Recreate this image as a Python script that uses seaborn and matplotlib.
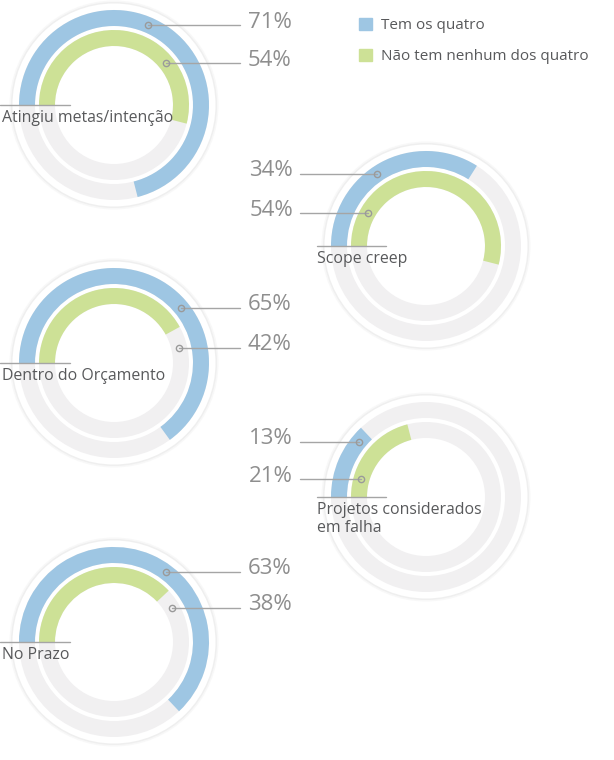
import matplotlib.pyplot as plt
from matplotlib.patches import Patch
import numpy as np
import seaborn as sns

categories = ["Atingiu metas/intenção", "Scope creep", "Dentro do Orçamento",
              "Projetos considerados\nem falha", "No Prazo"]
tem_os_quatro = [71, 34, 65, 13, 63]
nenhum_dos_quatro = [54, 54, 42, 21, 38]
series_names = ["Tem os quatro", "Não tem nenhum dos quatro"]

# layout, in pixels (y grows downwards)
centers = [(114, 105), (426, 246), (114, 363), (426, 497), (114, 642)]
label_side = ["right", "left", "right", "left", "right"]
value_dy = [(-80, -42), (-72, -33), (-55, -15), (-55, -18), (-70, -34)]
rings = [(95, 16), (75, 16)]  # outer radius, width

BLUE = "#9ec6e3"
GREEN = "#cde196"
TRACK = "#f1f0f1"
LINE = "#a5a5a5"
DARK = "#58595b"
PCT = "#8e8e8e"

sns.set_theme(style="white")
plt.rcParams["font.family"] = ["Open Sans", "DejaVu Sans"]

fig = plt.figure(figsize=(6.14, 7.6), dpi=100)
ax = fig.add_axes([0, 0, 1, 1])

for i, cat in enumerate(categories):
    cx, cy = centers[i]
    # white disc with a soft shadow
    for r, c in [(104.5, "#f8f8f8"), (103, "#efefef"), (101.5, "white")]:
        ax.add_patch(plt.Circle((cx, cy), r, color=c, lw=0, zorder=1))

    vals = [tem_os_quatro[i], nenhum_dos_quatro[i]]
    for (r, w), v, col, dy in zip(rings, vals, [BLUE, GREEN], value_dy[i]):
        ax.pie([1], radius=r, center=(cx, cy), colors=[TRACK], frame=True,
               wedgeprops=dict(width=w, linewidth=0))
        ax.pie([v / 100], normalize=False, radius=r, center=(cx, cy), colors=[col],
               startangle=180, counterclock=True, frame=True,
               wedgeprops=dict(width=w, linewidth=0))

        # leader line + value
        rm = r - w / 2
        dx = np.sqrt(rm ** 2 - dy ** 2)
        y = cy + dy
        if label_side[i] == "right":
            x0 = cx + dx
            ax.plot([x0, 240], [y, y], color=LINE, lw=1, zorder=3)
            ax.text(248, y - 3, f"{v}%", ha="left", va="center", fontsize=16,
                    color=PCT, zorder=4)
        else:
            x0 = cx - dx
            ax.plot([300, x0], [y, y], color=LINE, lw=1, zorder=3)
            ax.text(293, y - 3, f"{v}%", ha="right", va="center", fontsize=16,
                    color=PCT, zorder=4)
        ax.plot(x0, y, "o", ms=4.5, mfc="none", mec="#9a9a9a", mew=1, zorder=5)

    # category label
    if label_side[i] == "right":
        lx0, lx1, tx = 0, cx - 44, 2
    else:
        lx0, lx1, tx = cx - 109, cx - 40, cx - 109
    ax.plot([lx0, lx1], [cy, cy], color=LINE, lw=1, zorder=3)
    ax.text(tx, cy + 5, cat, ha="left", va="top", fontsize=11.4, color=DARK,
            linespacing=1.2, zorder=4)

handles = [Patch(color=BLUE), Patch(color=GREEN)]
ax.legend(handles, series_names, loc="upper left",
          bbox_to_anchor=(359 / 614, 1 - 18 / 760), frameon=False,
          fontsize=11, labelcolor=DARK, handlelength=0.85, handleheight=0.85,
          handletextpad=0.6, labelspacing=1.0, borderpad=0, borderaxespad=0)

ax.set_xlim(0, 614)
ax.set_ylim(760, 0)
ax.set_axis_off()

fig.savefig("out.png", dpi=100, facecolor="white")
